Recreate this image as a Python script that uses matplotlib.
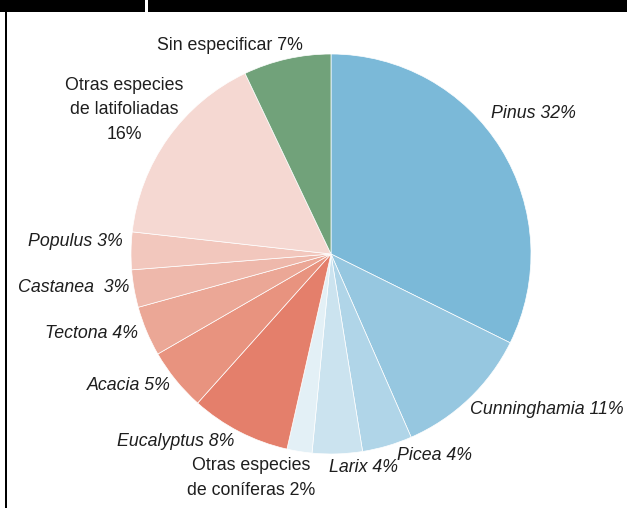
import matplotlib
matplotlib.use("Agg")
import matplotlib.pyplot as plt
from matplotlib.patches import Rectangle

# Forest plantation area by genus (%)
labels = ["Pinus", "Cunninghamia", "Picea", "Larix", "Otras especies\nde coníferas",
          "Eucalyptus", "Acacia", "Tectona", "Castanea", "Populus",
          "Otras especies\nde latifoliadas", "Sin especificar"]
values = [32, 11, 4, 4, 2, 8, 5, 4, 3, 3, 16, 7]
colors = ["#7bb9d8", "#96c7e0", "#b0d5e8", "#cbe3ef", "#e3f0f6",
          "#e47f6b", "#e8937f", "#eba796", "#eeb8ab", "#f2c7bd",
          "#f5d8d2", "#71a27a"]
label_text = ["Pinus 32%", "Cunninghamia 11%", "Picea 4%", "Larix 4%",
              "Otras especies\nde coníferas 2%", "Eucalyptus 8%", "Acacia 5%",
              "Tectona 4%", "Castanea  3%", "Populus 3%",
              "Otras especies\nde latifoliadas\n16%", "Sin especificar 7%"]
italic = [True, True, True, True, False, True, True, True, True, True, False, False]

W, H = 627, 508
fig = plt.figure(figsize=(W / 100, H / 100), dpi=100)
ax = fig.add_axes([0, 0, 1, 1])

ax.pie(values, colors=colors, startangle=90, counterclock=False,
       center=(331, H - 254), radius=200, frame=True,
       wedgeprops=dict(linewidth=0.5, edgecolor="white"))
ax.set_xlim(0, W)
ax.set_ylim(0, H)
ax.set_aspect("equal")
ax.axis("off")

# label anchors (x, y from top, horizontal alignment)
pos = [(491, 114, "left"), (470, 409, "left"), (397, 455, "left"), (329, 467, "left"),
       (251, 478, "center"), (234, 441, "right"), (171, 385, "right"),
       (138, 334, "right"), (129, 288, "right"), (123, 242, "right"),
       (124, 110, "center"), (230, 45, "center")]
for txt, it, (x, y, ha) in zip(label_text, italic, pos):
    ax.text(x, H - y, txt, ha=ha, va="center", fontsize=12.8,
            family="Liberation Sans", style="italic" if it else "normal",
            color="#1e1e1e", linespacing=1.55)

# frame: top bar and left rule
ax.add_patch(Rectangle((0, H - 12), W, 12, color="black", lw=0))
ax.add_patch(Rectangle((145, H - 12), 3, 12, color="white", lw=0))
ax.add_patch(Rectangle((5, 0), 2, H, color="black", lw=0))

fig.savefig("out.png", dpi=100)
